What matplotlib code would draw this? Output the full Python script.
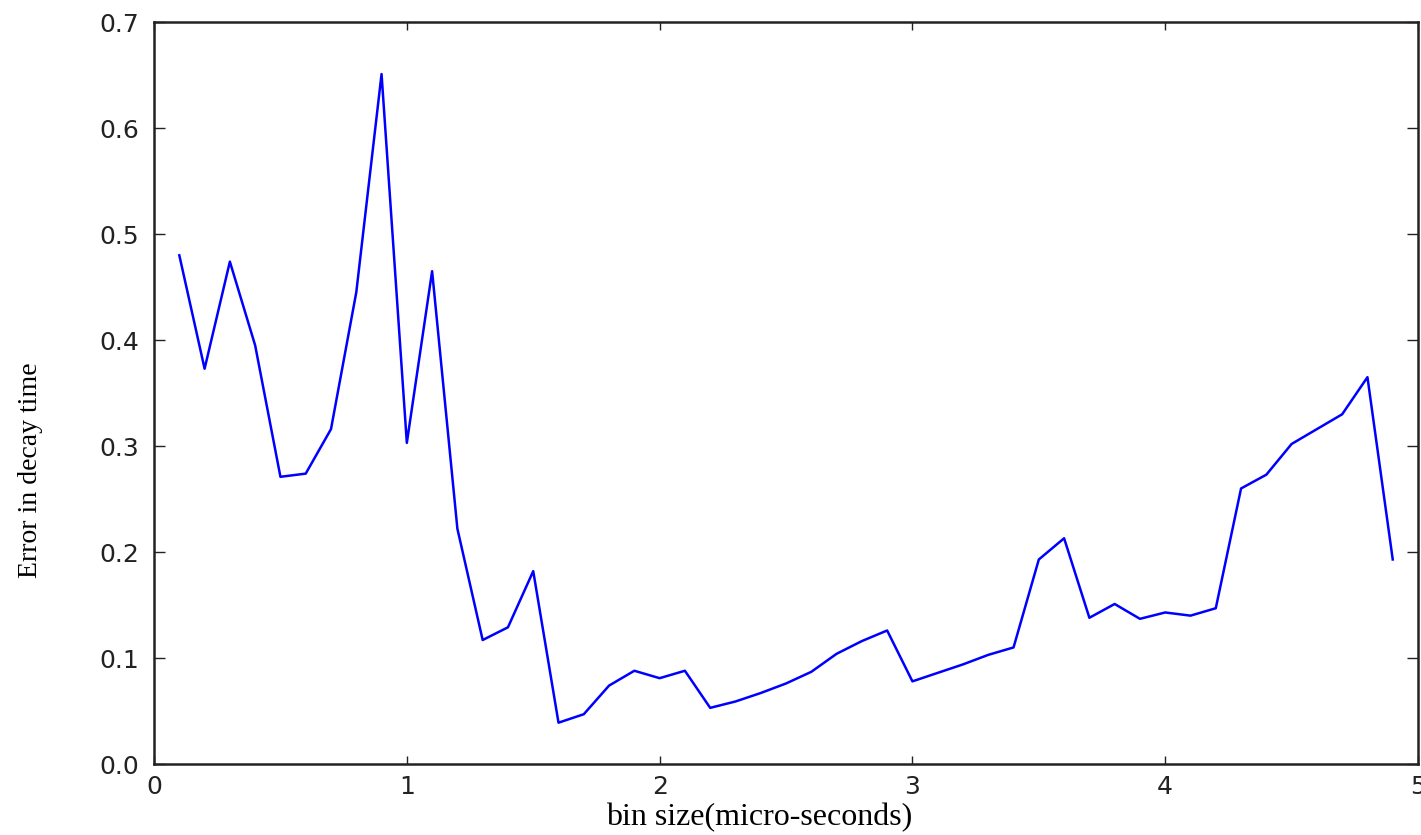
import matplotlib
matplotlib.use("Agg")
import matplotlib.pyplot as plt

# bin size (micro-seconds) and error in decay time
bin_size = [0.1, 0.2, 0.3, 0.4, 0.5, 0.6, 0.7, 0.8, 0.9, 1.0,
            1.1, 1.2, 1.3, 1.4, 1.5, 1.6, 1.7, 1.8, 1.9, 2.0,
            2.1, 2.2, 2.3, 2.4, 2.5, 2.6, 2.7, 2.8, 2.9, 3.0,
            3.1, 3.2, 3.3, 3.4, 3.5, 3.6, 3.7, 3.8, 3.9, 4.0,
            4.1, 4.2, 4.3, 4.4, 4.5, 4.6, 4.7, 4.8, 4.9]
decay_error = [0.480, 0.373, 0.474, 0.395, 0.271, 0.274, 0.316, 0.445, 0.651, 0.303,
               0.465, 0.222, 0.117, 0.129, 0.182, 0.039, 0.047, 0.074, 0.088, 0.081,
               0.088, 0.053, 0.059, 0.067, 0.076, 0.087, 0.104, 0.116, 0.126, 0.078,
               0.086, 0.094, 0.103, 0.110, 0.193, 0.213, 0.138, 0.151, 0.137, 0.143,
               0.140, 0.147, 0.260, 0.273, 0.302, 0.316, 0.330, 0.365, 0.193]

fig = plt.figure(figsize=(14.21, 8.35), dpi=100)
ax = fig.add_axes([0.1084, 0.085, 0.8895, 0.8885])

ax.plot(bin_size, decay_error, color="#0000ff", linewidth=1.8)

ax.set_xlim(0, 5)
ax.set_ylim(0, 0.7)
ax.set_xticks([0, 1, 2, 3, 4, 5])
ax.set_yticks([0.0, 0.1, 0.2, 0.3, 0.4, 0.5, 0.6, 0.7])
ax.set_yticklabels(["0.0", "0.1", "0.2", "0.3", "0.4", "0.5", "0.6", "0.7"])

ax.tick_params(direction="in", width=1, labelsize=18,
               top=True, right=True, colors="#222222")
ax.tick_params(axis="x", length=6, pad=8)
ax.tick_params(axis="y", length=8, pad=11)
for spine in ax.spines.values():
    spine.set_linewidth(1.8)
    spine.set_color("#222222")

ax.set_xlabel("bin size(micro-seconds)", fontfamily="Liberation Serif",
              fontsize=23, va="top")
ax.xaxis.set_label_coords(0.479, -0.052)
ax.set_ylabel("Error in decay time", fontfamily="Liberation Serif",
              fontsize=20)
ax.yaxis.set_label_coords(-0.088, 0.396)

fig.savefig("out.png", dpi=100)
